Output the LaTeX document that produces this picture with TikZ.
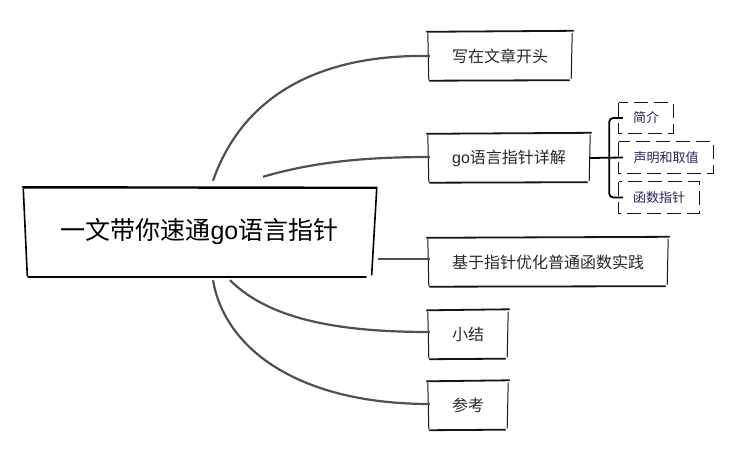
\documentclass[tikz,border=0pt]{standalone}
\usepackage{fontspec}
\setmainfont{Noto Sans CJK SC}
\newfontfamily\latinfont{Liberation Sans}
\usetikzlibrary{calc}
\definecolor{conn}{RGB}{80,80,80}
\definecolor{boxline}{RGB}{20,20,20}
\definecolor{leaftext}{RGB}{40,40,40}
\definecolor{subtext}{RGB}{38,36,92}
\tikzset{
  mainnode/.style={inner sep=0pt, minimum width=352pt, minimum height=89pt, font=\fontsize{25}{30}\selectfont, text=black},
  leafnode/.style={inner sep=0pt, minimum height=49pt, font=\fontsize{16}{19}\selectfont, text=leaftext},
  subnode/.style={inner sep=0pt, minimum height=31pt, font=\fontsize{13}{16}\selectfont, text=subtext},
  edgeh/.style={draw=boxline, line width=1.8pt, line cap=round},
  edgev/.style={draw=boxline, line width=1pt, line cap=round},
  mainh/.style={draw=black, line width=2.4pt, line cap=round},
  mainv/.style={draw=black, line width=1.6pt, line cap=round},
  connector/.style={draw=conn, line width=2.2pt},
  bracket/.style={draw=black, line width=1.8pt, rounded corners=4pt},
  subedge/.style={draw=boxline, line width=0.8pt, dash pattern=on 14pt off 6pt},
}
\newcommand\sketchbox[1]{%
  \draw[edgeh] ($(#1.north west)+(-1,0.5)$) -- ($(#1.north east)+(1,-0.5)$);
  \draw[edgeh] ($(#1.south west)+(2,0)$) -- ($(#1.south east)+(-3,-0.5)$);
  \draw[edgev] ($(#1.north west)+(0,2)$) -- ($(#1.south west)+(1,-1)$);
  \draw[edgev] ($(#1.north east)+(0,2)$) -- ($(#1.south east)+(-1,-2)$);
}
\begin{document}
\begin{tikzpicture}[x=1pt, y=-1pt]
\useasboundingbox (0,0) rectangle (740,458);

% main node
\node[mainnode] (main) at (199.5,232) {一文带你速通{\latinfont go}语言指针};
\draw[mainh] ($(main.north west)+(-0.5,0)$) -- ($(main.north east)+(1,0.5)$);
\draw[mainh] ($(main.south west)+(5,0)$) -- ($(main.south east)+(-10,0)$);
\draw[mainv] ($(main.north west)+(0,2)$) -- ($(main.south west)+(4,-1)$);
\draw[mainv] ($(main.north east)+(1,2)$) -- ($(main.south east)+(-4,-2)$);

% leaf nodes
\node[leafnode, minimum width=144pt] (n1) at (500,56) {写在文章开头};
\node[leafnode, minimum width=162pt] (n2) at (509,158) {{\latinfont go}语言指针详解};
\node[leafnode, minimum width=240pt] (n3) at (548,262) {基于指针优化普通函数实践};
\node[leafnode, minimum width=80pt] (n4) at (468,334.5) {小结};
\node[leafnode, minimum width=80pt] (n5) at (468,405.5) {参考};
\sketchbox{n1}
\sketchbox{n2}
\sketchbox{n3}
\sketchbox{n4}
\sketchbox{n5}

% sub nodes
\node[subnode, minimum width=54pt, minimum height=30pt] (s1) at (646,118) {简介};
\node[subnode, minimum width=94pt] (s2) at (666,157.5) {声明和取值};
\node[subnode, minimum width=80pt] (s3) at (659,197.5) {函数指针};
\draw[subedge] (s1.north west) rectangle (s1.south east);
\draw[subedge] (s2.north west) rectangle (s2.south east);
\draw[subedge] (s3.north west) rectangle (s3.south east);

% connectors from main
\coordinate (m1) at ($(main.north)+(13.5,-6.5)$);
\coordinate (m2) at ($(main.north)+(63.5,-10.5)$);
\coordinate (m3) at ($(main.east)+(2,27)$);
\coordinate (m4) at ($(main.south)+(30.5,3.5)$);
\coordinate (m5) at ($(main.south)+(13.5,3.5)$);
\draw[connector] (m1) .. controls (243,95) and (320,54) .. ($(n1.west)+(2,0)$);
\draw[connector] (m2) .. controls (310,163) and (360,157) .. ($(n2.west)+(2,-1)$);
\draw[connector] (m3) -- ($(n3.west)+(2,-3)$);
\draw[connector] (m4) .. controls (270,320) and (340,332) .. ($(n4.west)+(2,-2.5)$);
\draw[connector] (m5) .. controls (225,350) and (300,404) .. ($(n5.west)+(2,-1.5)$);

% bracket to sub nodes
\coordinate (br) at ($(n2.east)+(19,0)$);
\draw[bracket] ($(s1.west)+(4,0)$) -| (br) |- ($(s3.west)+(4,0)$);
\draw[draw=black, line width=1.8pt] (n2.east) -- ($(s2.west)+(4,0)$);
\end{tikzpicture}
\end{document}
